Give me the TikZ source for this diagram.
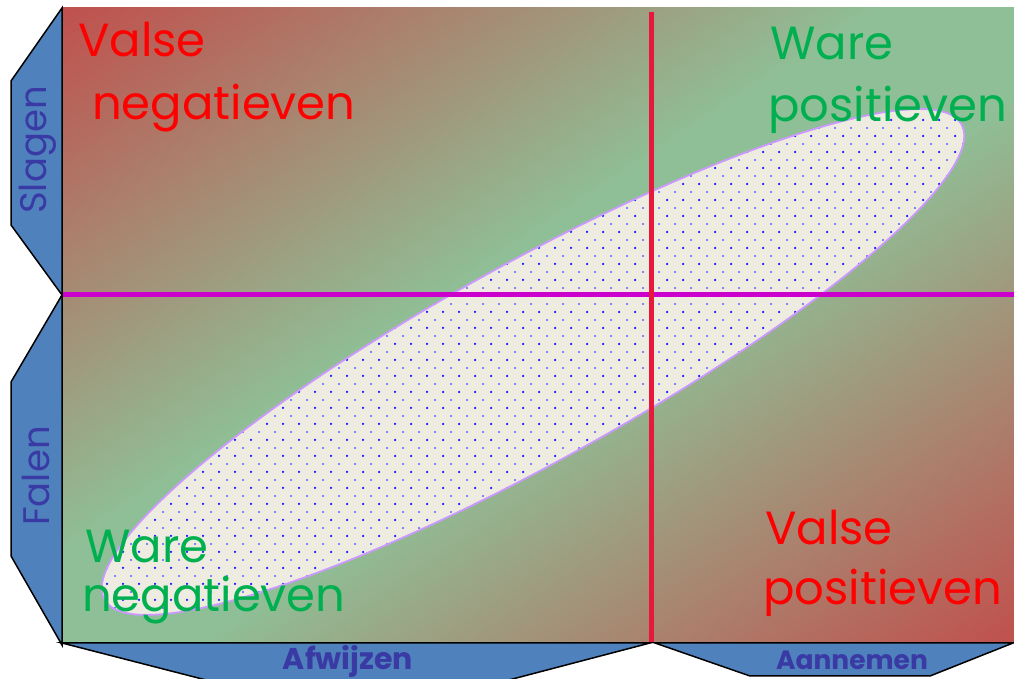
\documentclass[tikz,border=0pt]{standalone}
\usepackage{fontspec}
\setmainfont{Poppins}
\definecolor{tabblue}{RGB}{79,129,189}
\definecolor{gred}{RGB}{192,80,77}
\definecolor{ggreen}{RGB}{143,191,150}
\definecolor{vred}{RGB}{255,0,0}
\definecolor{wgreen}{RGB}{0,176,80}
\definecolor{lblue}{RGB}{58,58,165}
\definecolor{vline}{RGB}{230,25,60}
\definecolor{hline}{RGB}{204,0,204}
\definecolor{ellfill}{RGB}{238,236,225}
\definecolor{elledge}{RGB}{204,153,255}
\definecolor{dotblue}{RGB}{20,20,255}
\pgfdeclarehorizontalshading{quadgrad}{100bp}{color(0bp)=(gred); color(25bp)=(gred); color(46.5bp)=(ggreen); color(53.5bp)=(ggreen); color(75bp)=(gred); color(100bp)=(gred)}
\begin{document}
\begin{tikzpicture}[x=1pt,y=1pt,
  tab/.style={fill=tabblue,draw=black,line width=1.5pt,line join=miter},
  quad/.style={font=\fontsize{46.5}{46.5}\selectfont, anchor=base west, inner sep=0pt},
  sidelbl/.style={font=\fontsize{37}{37}\selectfont, text=lblue, rotate=90, inner sep=0pt},
  botlbl/.style={text=lblue, inner sep=0pt, anchor=base},
]
\useasboundingbox (0,0) rectangle (1014,679);
\clip (0,0) rectangle (1014,679);
% gradient background
\begin{scope}
  \clip (62,36) rectangle (1014,671);
  \shade[transform canvas={shift={(538,353.5)}, rotate=-56.31}, shading=quadgrad]
    (-528.3,-650) rectangle (528.3,650);
\end{scope}
% ellipse with dots
\fill[ellfill, rotate around={29:(533,317)}] (533,317) ellipse (490 and 99);
\begin{scope}
  \clip[rotate around={29:(533,317)}] (533,317) ellipse (490 and 99);
  \foreach \i in {5,...,60} {
    \foreach \j in {4,...,34} {
      \fill[dotblue] (11+16*\i, 15+16*\j) circle (1.25);
      \fill[dotblue] (19+16*\i, 7+16*\j) circle (0.8);
    }
  }
\end{scope}
\draw[elledge, line width=1.8pt, rotate around={29:(533,317)}] (533,317) ellipse (490 and 99);
% axes lines
\coordinate (hl) at (62,384);
\coordinate (hr) at (1014,384);
\coordinate (vt) at (651,667);
\coordinate (vb) at (651,36);
\draw[hline, line width=5pt] (hl) -- (hr);
\draw[vline, line width=5pt] (vt) -- (vb);
% tabs
\draw[tab] (62,671) -- (11,598) -- (11,454) -- (62,384) -- cycle;
\draw[tab] (62,384) -- (11,297) -- (11,123) -- (62,34) -- cycle;
\draw[tab] (62,36) -- (210,-2) -- (505,-2) -- (650,36) -- cycle;
\draw[tab] (655,36) -- (750,3) -- (930,3) -- (1013,36) -- cycle;
% tab labels
\node[sidelbl] (slagen) at (38,529) {Slagen};
\node[sidelbl] (falen) at (36,203) {Falen};
\node[botlbl, font=\fontsize{30}{30}\selectfont\bfseries] (afw) at (348,9) {Afwijzen};
\node[botlbl, font=\fontsize{26.5}{26.5}\selectfont\bfseries] (aan) at (852,9) {Aannemen};
% quadrant labels
\node[quad, text=vred] (vn1) at (78,622) {Valse};
\node[quad, text=vred] (vn2) at (92,559) {negatieven};
\node[quad, text=wgreen] (wp1) at (770,619) {Ware};
\node[quad, text=wgreen] (wp2) at (768,557) {positieven};
\node[quad, text=wgreen] (wn1) at (85,116) {Ware};
\node[quad, text=wgreen] (wn2) at (82,67) {negatieven};
\node[quad, text=vred] (vp1) at (765,134) {Valse};
\node[quad, text=vred] (vp2) at (763,74) {positieven};
\end{tikzpicture}
\end{document}
